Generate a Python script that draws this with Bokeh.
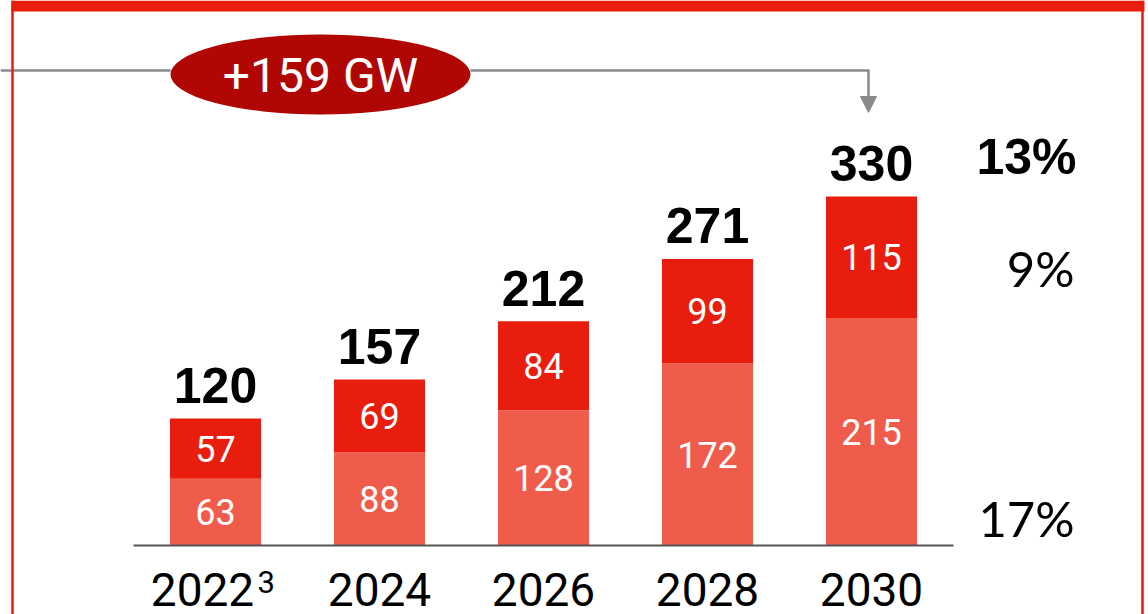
from bokeh.plotting import figure
from bokeh.models import Range1d, ColumnDataSource, Arrow, NormalHead
from bokeh.core.properties import value
from bokeh.embed import file_html
from bokeh.resources import INLINE

# ---------------- data ----------------
years = ["2022", "2024", "2026", "2028", "2030"]
year_notes = ["3", "", "", "", ""]
base_gw = [63, 88, 128, 172, 215]      # lower (lighter) segment
add_gw = [57, 69, 84, 99, 115]         # upper (red) segment
growth_label = "+159 GW"
cagr_labels = ["13%", "9%", "17%"]     # total, upper segment, lower segment
cagr_bold = [True, False, False]

totals = [b + a for b, a in zip(base_gw, add_gw)]

# ---------------- layout helpers (reference pixel -> data) ----------------
PPX = 164.0          # px per category step
X0 = 215.0           # px of first bar centre
PPY = 349.0 / 330.0  # px per GW
Y0 = 545.0           # px of baseline


def X(px):
    return (px - X0) / PPX


def Y(py):
    return (Y0 - py) / PPY


W, H = 1148, 614
p = figure(width=W, height=H, output_backend="svg", toolbar_location=None,
           x_range=Range1d(X(0), X(W)), y_range=Range1d(Y(H), Y(0)),
           min_border=0, outline_line_color=None)
p.axis.visible = False
p.grid.visible = False
p.background_fill_color = "white"

idx = list(range(len(years)))
src = ColumnDataSource(dict(x=idx, base=base_gw, add=add_gw, total=totals,
                            years=years,
                            base_lbl=[str(v) for v in base_gw],
                            add_lbl=[str(v) for v in add_gw],
                            tot_lbl=[str(v) for v in totals],
                            base_mid=[b / 2 for b in base_gw],
                            add_mid=[b + a / 2 for b, a in zip(base_gw, add_gw)],
                            tot_y=[t + 33.0 / PPY for t in totals]))

BAR_W = 91.0 / PPX
LIGHT = "#F05C4B"
RED = "#E91D0E"

p.vbar(x="x", width=BAR_W, bottom=0, top="base", source=src,
       fill_color=LIGHT, line_color=None)
p.vbar(x="x", width=BAR_W, bottom="base", top="total", source=src,
       fill_color=RED, line_color=None)

# segment labels
for col, ycol in (("base_lbl", "base_mid"), ("add_lbl", "add_mid")):
    p.text(x="x", y=ycol, text=col, source=src, text_color="white",
           text_font=value("Roboto"), text_font_size="36px",
           text_align="center", text_baseline="middle")

# totals
p.text(x="x", y="tot_y", text="tot_lbl", source=src, text_color="black",
       text_font=value("Liberation Sans"), text_font_style="bold",
       text_font_size="50px", text_align="center", text_baseline="middle")

# baseline
p.segment(x0=[X(133)], y0=[0], x1=[X(953)], y1=[0], line_color="#555555",
          line_width=2)

# year labels (first one shifted to make room for the footnote mark)
yr_x = [i + (X(202) - X(215) if n else 0) for i, n in zip(idx, year_notes)]
p.text(x=yr_x, y=[Y(589)] * len(years), text=years, text_color="black",
       text_font=value("Roboto"), text_font_size="46px",
       text_align="center", text_baseline="middle")
note_x = [i + (X(257) - X(215)) for i, n in zip(idx, year_notes) if n]
notes = [n for n in year_notes if n]
p.text(x=note_x, y=[Y(581)] * len(notes), text=notes, text_color="black",
       text_font=value("Roboto"), text_font_size="31px",
       text_align="left", text_baseline="middle")

# CAGR labels on the right
cagr_y = [Y(156), Y(267), Y(517)]
for lbl, bold, yy in zip(cagr_labels, cagr_bold, cagr_y):
    if bold:
        p.text(x=[X(1076)], y=[yy], text=[lbl], text_color="black",
               text_font=value("Liberation Sans"), text_font_style="bold",
               text_font_size="50px", text_align="right",
               text_baseline="middle")
    else:
        p.text(x=[X(1074)], y=[yy], text=[lbl], text_color="black",
               text_font=value("Lato"), text_font_size="49px",
               text_align="right", text_baseline="middle")

# connector line + arrow
GRAY = "#8A8A8A"
p.segment(x0=[X(0), X(470)], y0=[Y(70), Y(70)], x1=[X(170), X(868)],
          y1=[Y(70), Y(70)], line_color=GRAY, line_width=2.5)
p.add_layout(Arrow(x_start=X(868), y_start=Y(69), x_end=X(868), y_end=Y(112),
                   line_color=GRAY, line_width=2.5,
                   end=NormalHead(size=16, fill_color=GRAY, line_color=GRAY,
                                  line_width=1)))

# growth oval
p.ellipse(x=[X(320)], y=[Y(74)], width=[300 / PPX], height=[80 / PPY],
          fill_color="#B00604", line_color=None)
p.text(x=[X(320)], y=[Y(75)], text=[growth_label], text_color="white",
       text_font=value("Roboto"), text_font_size="48px",
       text_align="center", text_baseline="middle")

# frame of the slide panel
p.quad(left=[X(11)], right=[X(1144)], top=[Y(0)], bottom=[Y(11)],
       fill_color=RED, line_color=None)
p.segment(x0=[X(12), X(1142)], y0=[Y(0), Y(0)], x1=[X(12), X(1142)],
          y1=[Y(614), Y(614)], line_color=RED, line_width=2.5)

open("out.html", "w").write(file_html(p, INLINE))
